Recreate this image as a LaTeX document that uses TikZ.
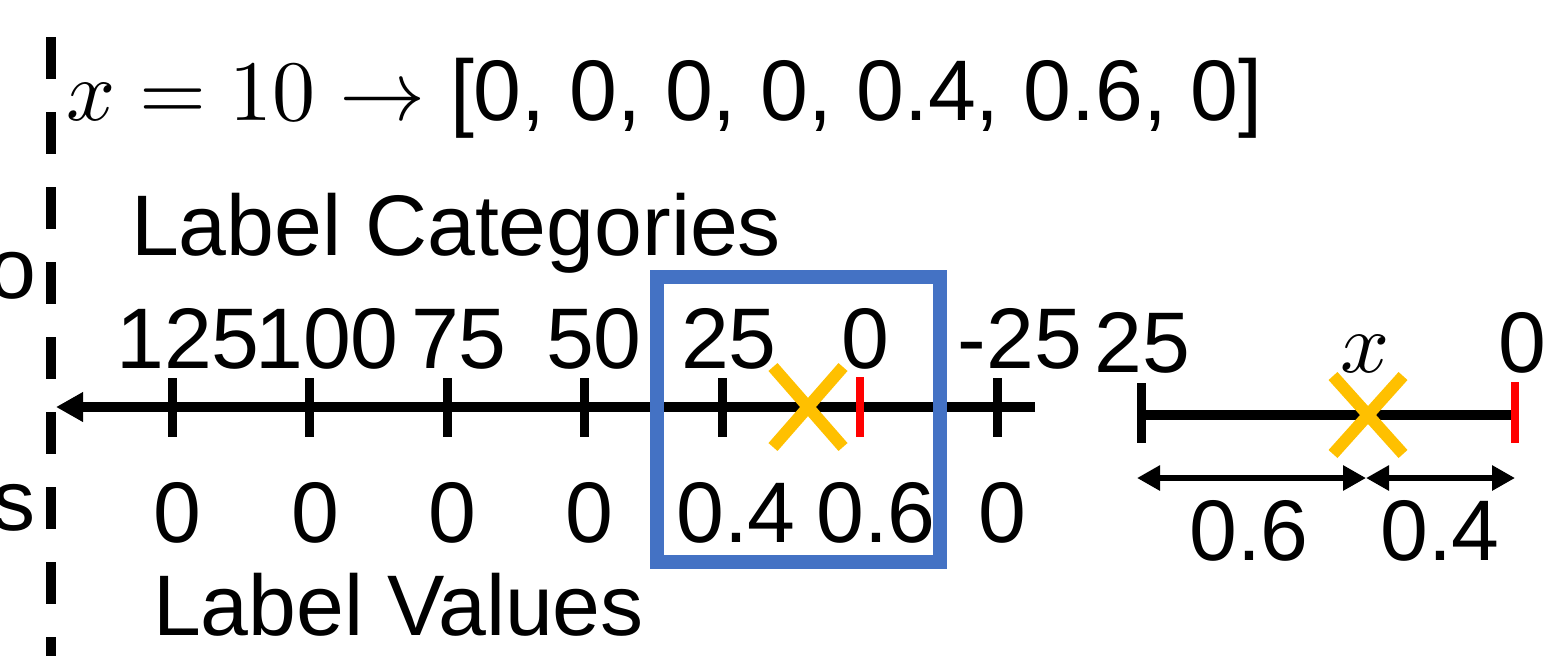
\documentclass[tikz,border=0pt]{standalone}
\usepackage{fontspec}
\usepackage{unicode-math}
\setmathfont{Latin Modern Math}
\newfontfamily\arialf{Liberation Sans}
\usetikzlibrary{arrows.meta}
\definecolor{boxblue}{HTML}{4472C4}
\definecolor{xyellow}{HTML}{FFC000}
\begin{document}
\begin{tikzpicture}[x=0.5pt,y=-0.5pt,
  lbl/.style={inner sep=0pt, outer sep=0pt, anchor=base, font=\arialf\fontsize{43}{50}\selectfont},
  mth/.style={inner sep=0pt, outer sep=0pt, anchor=base, font=\fontsize{43}{50}\selectfont},
  axisline/.style={line width=5pt},
  tickmark/.style={line width=4.5pt},
  redtick/.style={line width=4pt, red},
  cross/.style={line width=6pt, xyellow},
  dimarrow/.style={line width=3pt, {Triangle[length=11.5pt,width=12pt]}-{Triangle[length=11.5pt,width=12pt]}},
  sepline/.style={line width=5pt, dash pattern=on 21pt off 16.5pt},
  hlbox/.style={draw=boxblue, line width=7pt, inner sep=0pt, minimum width=141.5pt, minimum height=142.5pt},
  ]
\useasboundingbox (0,0) rectangle (1545,655);
\clip (0,0) rectangle (1545,655);

% separator (dashed)
\coordinate (sepT) at (51,37);
\coordinate (sepB) at (51,700);
\draw[sepline] (sepT) -- (sepB);

% cut-off letters from neighbouring panel
\node[lbl, anchor=base east] (po) at (36,298) {o};
\node[lbl, anchor=base east] (ps) at (36,530) {s};

% formula
\node[mth, anchor=base west] (fm) at (66,120) {$x = 10 \rightarrow$};
\node[lbl, anchor=base west] (vec) at (450,120) {[0, 0, 0, 0, 0.4, 0.6, 0]};

% titles
\node[lbl, anchor=base west] (lc) at (131,255) {Label Categories};
\node[lbl, anchor=base west] (lv) at (153,635) {Label Values};

% main axis
\coordinate (axR) at (1035,407);
\coordinate (axL) at (56,407);
\draw[axisline, -{Triangle[length=13.5pt,width=14pt]}] (axR) -- (axL);
\foreach \i/\xx in {0/172,1/309.5,2/447,3/584.5,4/722,6/997}{
  \coordinate (t\i) at (\xx,407);
  \draw[tickmark] ([yshift=14.5pt]t\i) -- ([yshift=-15pt]t\i);
}
\coordinate (t5) at (860,407);
\draw[redtick] ([yshift=15pt]t5) -- ([yshift=-15pt]t5);
\coordinate (xm) at (808,407);
\draw[cross] ([shift={(-35,-40)}]xm) -- ([shift={(35,40)}]xm);
\draw[cross] ([shift={(-35,40)}]xm) -- ([shift={(35,-40)}]xm);

% category labels
\node[lbl] (c0) at (188,368) {125};
\node[lbl] (c1) at (327,368) {100};
\node[lbl] (c2) at (459,368) {75};
\node[lbl] (c3) at (594,368) {50};
\node[lbl] (c4) at (729,368) {25};
\node[lbl] (c5) at (865,368) {0};
\node[lbl] (c6) at (1020,368) {-25};

% value labels
\node[lbl] (v0) at (177,542) {0};
\node[lbl] (v1) at (315,542) {0};
\node[lbl] (v2) at (452,542) {0};
\node[lbl] (v3) at (589,542) {0};
\node[lbl] (v4) at (736,542) {0.4};
\node[lbl] (v5) at (876,542) {0.6};
\node[lbl] (v6) at (1002,542) {0};

% highlight box
\node[hlbox] (box) at (798.5,419.5) {};

% right zoomed segment
\coordinate (rL) at (1141,415);
\coordinate (rR) at (1515,415);
\draw[axisline] (rL) -- (rR);
\draw[tickmark] ([yshift=16pt]rL) -- ([yshift=-14pt]rL);
\draw[redtick] ([yshift=16.5pt]rR) -- ([yshift=-14pt]rR);
\coordinate (xr) at (1368,415);
\draw[cross] ([shift={(-35,-39)}]xr) -- ([shift={(35,39)}]xr);
\draw[cross] ([shift={(-35,39)}]xr) -- ([shift={(35,-39)}]xr);

\node[lbl] (r25) at (1142,372) {25};
\node[lbl] (r0) at (1522,372) {0};
\node[mth] (rx) at (1365,372) {$x$};

\coordinate (dL) at (1137,478);
\coordinate (dM) at (1366,478);
\coordinate (dR) at (1515,478);
\draw[dimarrow] (dL) -- (dM);
\draw[dimarrow] (dM) -- (dR);
\node[lbl] (d06) at (1249,560) {0.6};
\node[lbl] (d04) at (1440,560) {0.4};
\end{tikzpicture}
\end{document}
